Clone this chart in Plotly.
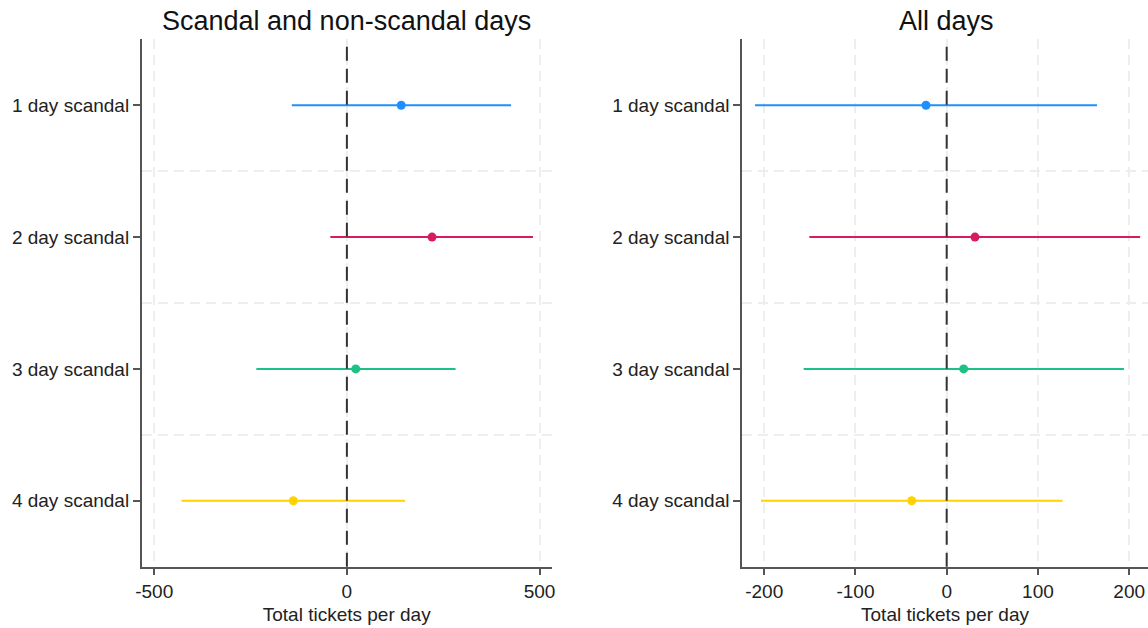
import plotly.graph_objects as go

# ---------------- data ----------------
categories = ["1 day scandal", "2 day scandal", "3 day scandal", "4 day scandal"]
colors = ["#1E8FFF", "#D81B60", "#1CC285", "#FFD200"]

# Panel 1: Scandal and non-scandal days
est_left = [141, 221, 23, -139]
lo_left = [-143, -43, -235, -429]
hi_left = [426, 483, 282, 151]

# Panel 2: All days
est_right = [-22.7, 31, 18.6, -38.3]
lo_right = [-210, -150.5, -156.7, -203.5]
hi_right = [164.7, 212, 194.3, 127]

titles = ["Scandal and non-scandal days", "All days"]
x_title = "Total tickets per day"
ticks_left = [-500, 0, 500]
ticks_right = [-200, -100, 0, 100, 200]
ref_value = 0

# ---------------- figure ----------------
W, H = 1148, 628
FONT = "Liberation Sans, Arial, sans-serif"
positions = list(range(1, len(categories) + 1))
boundaries = [p + 0.5 for p in positions[:-1]]

fig = go.Figure()

def add_panel(est, lo, hi, xa, ya):
    for i, cat in enumerate(categories):
        fig.add_trace(go.Scatter(
            x=[est[i]], y=[positions[i]],
            mode="markers",
            marker=dict(color=colors[i], size=9),
            error_x=dict(type="data", symmetric=False,
                         array=[hi[i] - est[i]], arrayminus=[est[i] - lo[i]],
                         color=colors[i], thickness=2, width=0),
            xaxis=xa, yaxis=ya, showlegend=False, hoverinfo="skip",
            name=cat,
        ))

add_panel(est_left, lo_left, hi_left, "x", "y")
add_panel(est_right, lo_right, hi_right, "x2", "y2")

grid_col = "#eeeeee"
axis_common = dict(
    showline=True, linecolor="#555555", linewidth=1.5,
    ticks="outside", ticklen=7, tickwidth=1.5, tickcolor="#555555",
    tickfont=dict(family=FONT, size=19, color="#222222"),
    zeroline=False, automargin=False,
)
xcommon = dict(axis_common, showgrid=True, gridcolor=grid_col, gridwidth=1.5,
               griddash="10px,6px",
               title=dict(text=x_title, font=dict(family=FONT, size=19, color="#222222"), standoff=6))
ycommon = dict(axis_common, showgrid=False, range=[4.5, 0.5],
               tickvals=positions, ticktext=categories,
               minor=dict(tickvals=boundaries, showgrid=True, gridcolor=grid_col,
                          gridwidth=1.5, griddash="10px,6px", ticks="", ticklen=0))

ydom = [1 - 566.7 / H, 1 - 39.3 / H]
fig.update_layout(
    width=W, height=H,
    margin=dict(l=0, r=0, t=0, b=0),
    paper_bgcolor="white", plot_bgcolor="white",
    font=dict(family=FONT),
    xaxis=dict(xcommon, domain=[141.7 / W, 551.7 / W], range=[-532.5, 531.5],
               tickvals=ticks_left, ticktext=[str(v) for v in ticks_left], anchor="y"),
    yaxis=dict(ycommon, domain=ydom, anchor="x"),
    xaxis2=dict(xcommon, domain=[742 / W, 1.0], range=[-224.3, 220.6],
                tickvals=ticks_right, ticktext=[str(v) for v in ticks_right], anchor="y2"),
    yaxis2=dict(ycommon, domain=ydom, anchor="x2"),
)

# reference line at zero
for xr, yr in [("x", "y"), ("x2", "y2")]:
    fig.add_shape(type="line", xref=xr, yref=f"{yr} domain",
                  x0=ref_value, x1=ref_value, y0=0, y1=1,
                  line=dict(color="#333333", width=2, dash="14px,8px"), layer="above")

# panel titles
fig.add_annotation(text=titles[0], xref="x domain", yref="paper", x=0.5, y=1 - 21 / H,
                   xanchor="center", yanchor="middle", showarrow=False,
                   font=dict(family=FONT, size=27, color="#111111"))
fig.add_annotation(text=titles[1], xref="x2", yref="paper", x=ref_value, y=1 - 21 / H,
                   xanchor="center", yanchor="middle", showarrow=False,
                   font=dict(family=FONT, size=27, color="#111111"))

fig.write_html("out.html")
